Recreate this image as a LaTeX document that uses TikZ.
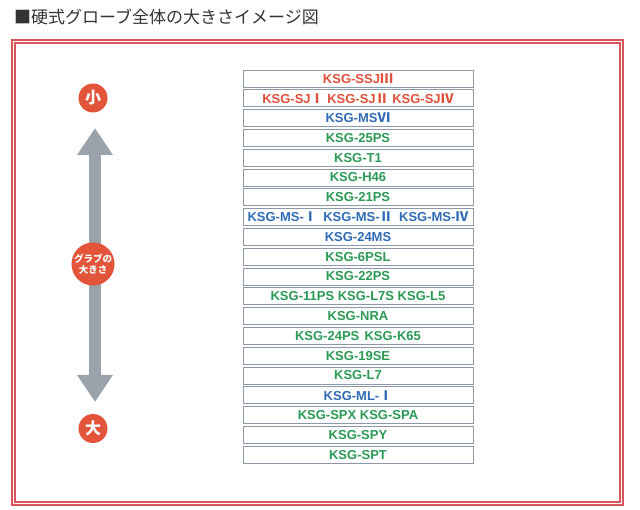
\documentclass[tikz,border=0pt]{standalone}
\usepackage{fontspec}
\setmainfont{Liberation Sans}
\newfontfamily\cjk{Noto Sans CJK JP}
\usepackage{tikz}
\usetikzlibrary{arrows.meta, positioning}
\definecolor{ksgred}{HTML}{E0503A}
\definecolor{ksgblue}{HTML}{2F6CB5}
\definecolor{ksggreen}{HTML}{2A9A55}
\definecolor{framered}{HTML}{D9555A}
\definecolor{circlered}{HTML}{E2553A}
\definecolor{arrowgray}{HTML}{9AA3AB}
\definecolor{boxedge}{HTML}{8C97A8}
\definecolor{titlegray}{HTML}{333333}
\newcommand{\rn}[1]{{\cjk\bfseries #1}}
\tikzset{
  sizebox/.style={
    rectangle, draw=boxedge, fill=white, line width=0.9pt,
    minimum width=230pt, minimum height=17pt, inner sep=0pt,
    font=\fontsize{13}{13}\selectfont\bfseries, text=#1
  },
  sizebox/.default=ksggreen,
  marker/.style={
    circle, fill=circlered, text=white, inner sep=0pt,
    font=\cjk\bfseries
  },
}

\begin{document}
\begin{tikzpicture}[x=1pt, y=-1pt]
\useasboundingbox (0,0) rectangle (640,510);

% Title
\node[anchor=west, text=titlegray, font=\cjk\fontsize{17}{17}\selectfont, inner sep=0pt] (title) at (14,17) {■硬式グローブ全体の大きさイメージ図};

% Double frame
\draw[framered, line width=1.1pt] (12,40) rectangle (623,505);
\draw[framered, line width=1.1pt] (15,43) rectangle (620,502);

% Size scale (left side)
\coordinate (uptip) at (95,128);
\coordinate (downtip) at (95,402);
\draw[arrowgray, line width=12pt, {Triangle[width=34pt, length=27pt]}-{Triangle[width=34pt, length=27pt]}] (uptip) -- (downtip);

\node[marker, minimum size=29pt, font=\cjk\bfseries\fontsize{16}{16}\selectfont] (small) at (93,98) {小};
\node[marker, minimum size=42pt, font=\cjk\bfseries\fontsize{9.5}{11}\selectfont, align=center] (scale) at (93,264) {グラブの\\大きさ};
\node[marker, minimum size=29pt, font=\cjk\bfseries\fontsize{16}{16}\selectfont] (large) at (93,428.5) {大};

% Glove models, small to large
\foreach \txt/\col [count=\i] in {
  KSG-SSJ\rn{Ⅲ}/ksgred,
  KSG-SJ\rn{Ⅰ}\ KSG-SJ\rn{Ⅱ}\ KSG-SJ\rn{Ⅳ}/ksgred,
  KSG-MS\rn{Ⅵ}/ksgblue,
  KSG-25PS/ksggreen,
  KSG-T1/ksggreen,
  KSG-H46/ksggreen,
  KSG-21PS/ksggreen,
  KSG-MS-\rn{Ⅰ}\hspace{0.5em}KSG-MS-\rn{Ⅱ}\hspace{0.5em}KSG-MS-\rn{Ⅳ}/ksgblue,
  KSG-24MS/ksgblue,
  KSG-6PSL/ksggreen,
  KSG-22PS/ksggreen,
  KSG-11PS\ KSG-L7S\ KSG-L5/ksggreen,
  KSG-NRA/ksggreen,
  KSG-24PS\hspace{0.4em}KSG-K65/ksggreen,
  KSG-19SE/ksggreen,
  KSG-L7/ksggreen,
  KSG-ML-\rn{Ⅰ}/ksgblue,
  KSG-SPX KSG-SPA/ksggreen,
  KSG-SPY/ksggreen,
  KSG-SPT/ksggreen}
  \node[sizebox=\col] (row\i) at (358, 78.5+19.8*\i-19.8) {\txt};

\end{tikzpicture}
\end{document}
